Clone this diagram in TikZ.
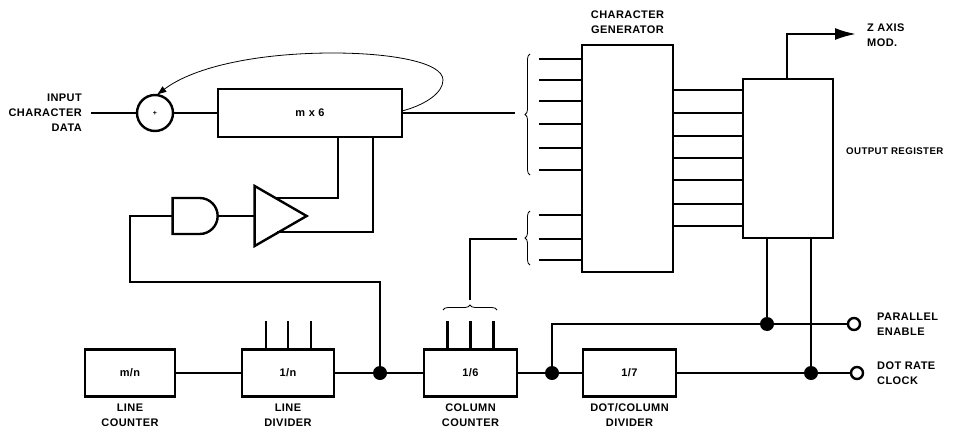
\documentclass[tikz,border=0pt]{standalone}
\usepackage{fontspec}
\setmainfont[LetterSpace=4]{Liberation Sans}
\usepackage{tikz}
\usetikzlibrary{arrows.meta,positioning,shapes.geometric,shapes.gates.logic.US,decorations.pathreplacing}

\begin{document}
\begin{tikzpicture}[
  x=1pt, y=-1pt,
  font=\bfseries\fontsize{11}{15}\selectfont,
  >=Latex,
  block/.style={draw, line width=2.4pt, outer sep=0pt, inner sep=0pt, align=center, fill=white},
  tag/.style={inner sep=0pt, align=center},
  sidetag/.style={tag, align=left, anchor=west},
  wire/.style={line width=2.2pt},
  thinwire/.style={line width=0.8pt},
  brace/.style={thinwire, decorate, decoration={brace, amplitude=5pt, raise=0pt}},
  dot/.style={circle, fill=black, inner sep=0pt, minimum size=14pt, outer sep=0pt},
  port/.style={circle, draw, line width=2.4pt, fill=white, inner sep=0pt, minimum size=12pt, outer sep=0pt}
]
\useasboundingbox (0,0) rectangle (953,431);

% top row
\node[block, circle, minimum size=36pt] (adder) at (155,113) {\fontsize{7}{7}\selectfont +};
\node[block, minimum width=184pt, minimum height=48pt, right=45pt of adder] (shiftreg) {m x 6};
\node[block, isosceles triangle, isosceles triangle apex angle=60, isosceles triangle stretches,
  minimum width=60pt, minimum height=52pt] (buffer) at (272,216) {};
\node[block, and gate US, logic gate inputs=nn, minimum height=34pt, minimum width=45pt, left=37pt of buffer.west] (andgate) {};
\node[block, minimum width=91pt, minimum height=227pt] (chargen) at (627.5,158.5) {};
\node[block, minimum width=90pt, minimum height=159pt, right=70pt of chargen] (outreg) {};

% bottom row
\node[block, minimum width=90pt, minimum height=47pt] (linecnt) at (130,373) {m/n};
\node[block, minimum width=92pt, minimum height=47pt, right=67pt of linecnt] (linediv) {1/n};
\node[dot, right=39pt of linediv] (jline) {};
\node[block, minimum width=93pt, minimum height=47pt, right=37pt of jline] (colcnt) {1/6};
\node[dot, right=28pt of colcnt] (jcol) {};
\node[block, minimum width=93pt, minimum height=47pt, right=24pt of jcol] (dotdiv) {1/7};
\node[port] (portclk) at (857,373) {};
\node[port] (portpar) at (854,324) {};
\node[dot] (jpar) at (767,324) {};
\node[dot] (jclk) at (811,373) {};

% labels
\node[tag, align=right, anchor=east] (inlabel) at (82,113) {INPUT\\CHARACTER\\DATA};
\node[tag, above=11pt of chargen] (cglabel) {CHARACTER\\GENERATOR};
\node[sidetag] (zlabel) at (867,35) {Z AXIS\\MOD.};
\node[sidetag, font=\bfseries\fontsize{9.7}{15}\selectfont] (orlabel) at (846,151) {OUTPUT REGISTER};
\node[sidetag] (parlabel) at (877,324) {PARALLEL\\ENABLE};
\node[sidetag] (clklabel) at (877,373) {DOT RATE\\CLOCK};
\node[tag, below=7pt of linecnt] (lclabel) {LINE\\COUNTER};
\node[tag, below=7pt of linediv] (ldlabel) {LINE\\DIVIDER};
\node[tag, below=7pt of colcnt] (cclabel) {COLUMN\\COUNTER};
\node[tag, below=7pt of dotdiv] (ddlabel) {DOT/COLUMN\\DIVIDER};

% free ends
\coordinate (instart) at (91,113);
\coordinate (busA) at (515,113);
\coordinate (busB) at (517,239);
\coordinate (tapB) at (470,300);
\coordinate (fold) at (130,282);
\coordinate (upper) at (276,198);
\coordinate (lower) at (277,232);
\coordinate (zend) at (856,34);
\coordinate (zcorner) at (787,34);

\draw[wire] (instart) -- (adder);
\draw[wire] (adder) -- (shiftreg);
\draw[wire] (shiftreg) -- (busA);
\draw[thinwire, -{Latex[length=10pt,width=7pt]}] ([yshift=2pt,xshift=0pt]shiftreg.east) .. controls (425,105) and (443,93) .. (443,80)
  .. controls (443,62) and (390,53) .. (333,53) .. controls (260,53) and (195,66) .. (adder.85);
\draw[wire] ([xshift=28pt]shiftreg.south) |- (upper);
\draw[wire] ([xshift=63pt]shiftreg.south) |- (lower);
\draw[wire] (andgate.east) -- (buffer.west);
\draw[wire] (andgate.west) -| (fold) -| (jline);

\draw[brace] (530,175) -- (530,54);
\draw[brace] (530,265) -- (530,211);
\draw[brace] (443,310) -- (497,310);
\foreach \y in {59,80,101,124,148,170,215,239,260}
  \draw[wire] (539,\y) -- (chargen.west |- 0,\y);
\foreach \y in {90,113,136,158,180,204,226}
  \draw[wire] (chargen.east |- 0,\y) -- (outreg.west |- 0,\y);
\draw[wire] (tapB) |- (busB);

\draw[wire] (outreg.north -| zcorner) -- (zcorner) -- (835,34);
\draw[-{Latex[length=21pt,width=12pt]}, wire] (zcorner) -- (zend);

\foreach \dx in {-22,0,23}
  \draw[wire] ([xshift=\dx pt]linediv.north) -- ++(0,-29);
\foreach \dx in {-23,0,23}
  \draw[wire] ([xshift=\dx pt]colcnt.north) -- ++(0,-29);

\draw[wire] (linecnt) -- (linediv);
\draw[wire] (linediv) -- (jline);
\draw[wire] (jline) -- (colcnt);
\draw[wire] (colcnt) -- (jcol);
\draw[wire] (jcol) -- (dotdiv);
\draw[wire] (dotdiv) -- (jclk);
\draw[wire] (jclk) -- (portclk);
\draw[wire] (jcol) |- (jpar);
\draw[wire] (jpar) -- (portpar);
\draw[wire] (outreg.south -| jpar) -- (jpar);
\draw[wire] (outreg.south -| jclk) -- (jclk);
\end{tikzpicture}
\end{document}
